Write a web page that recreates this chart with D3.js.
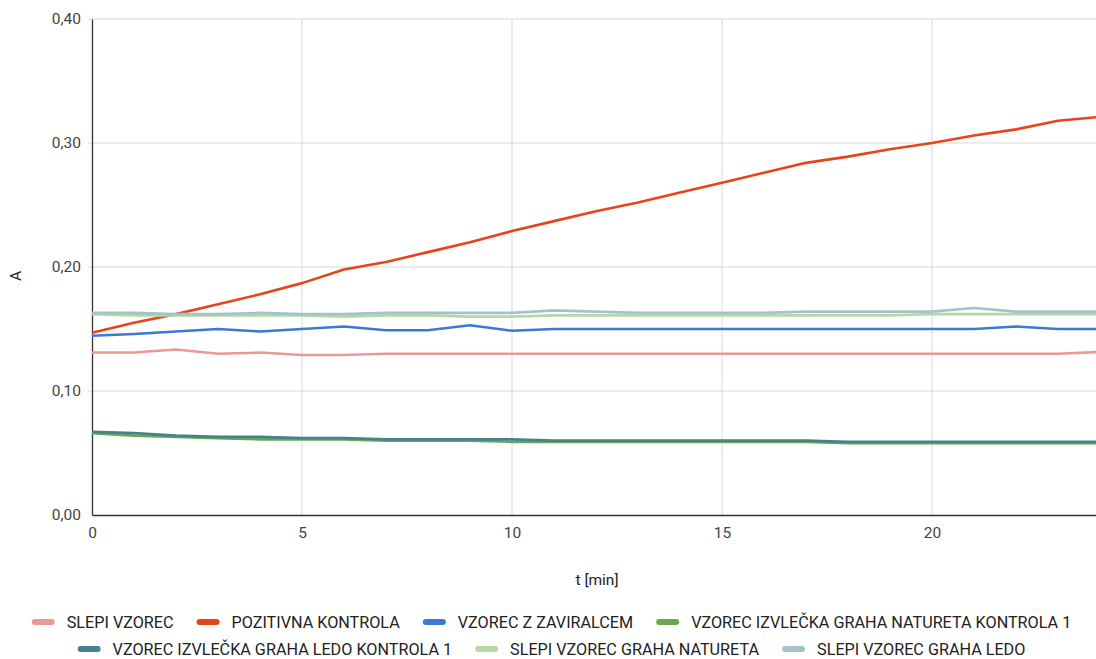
<!DOCTYPE html>
<html>
<head>
<meta charset="utf-8">
<script src="https://cdn.jsdelivr.net/npm/d3@7"></script>
<style>
  body { margin: 0; background: #fff; }
  text { font-family: Roboto, "Noto Sans", sans-serif; }
</style>
</head>
<body>
<div id="chart"></div>
<script>
const minutes = d3.range(0, 25)
const seriesNames = ['SLEPI VZOREC', 'POZITIVNA KONTROLA', 'VZOREC Z ZAVIRALCEM',
  'VZOREC IZVLEČKA GRAHA NATURETA KONTROLA 1', 'VZOREC IZVLEČKA GRAHA LEDO KONTROLA 1',
  'SLEPI VZOREC GRAHA NATURETA', 'SLEPI VZOREC GRAHA LEDO']
const slepi = [0.131, 0.131, 0.1335, 0.130, 0.131, 0.129, 0.129, 0.130, 0.130, 0.130, 0.130, 0.130, 0.130,
  0.130, 0.130, 0.130, 0.130, 0.130, 0.130, 0.130, 0.130, 0.130, 0.130, 0.130, 0.1315]
const pozitivna = [0.147, 0.155, 0.162, 0.170, 0.178, 0.187, 0.198, 0.204, 0.212, 0.220, 0.229, 0.237, 0.245,
  0.252, 0.260, 0.268, 0.276, 0.284, 0.289, 0.295, 0.300, 0.306, 0.311, 0.318, 0.321]
const zaviralec = [0.1446, 0.146, 0.148, 0.150, 0.148, 0.150, 0.152, 0.149, 0.149, 0.153, 0.1486, 0.150, 0.150,
  0.150, 0.150, 0.150, 0.150, 0.150, 0.150, 0.150, 0.150, 0.150, 0.152, 0.150, 0.150]
const naturetaKontrola = [0.066, 0.064, 0.063, 0.062, 0.061, 0.061, 0.061, 0.060, 0.060, 0.060, 0.059, 0.059, 0.059,
  0.059, 0.059, 0.059, 0.059, 0.059, 0.058, 0.058, 0.058, 0.058, 0.058, 0.058, 0.058]
const ledoKontrola = [0.067, 0.066, 0.064, 0.063, 0.063, 0.062, 0.062, 0.061, 0.061, 0.061, 0.061, 0.060, 0.060,
  0.060, 0.060, 0.060, 0.060, 0.060, 0.059, 0.059, 0.059, 0.059, 0.059, 0.059, 0.059]
const slepiNatureta = [0.162, 0.161, 0.161, 0.161, 0.161, 0.161, 0.160, 0.161, 0.161, 0.160, 0.160, 0.161, 0.161,
  0.161, 0.161, 0.161, 0.161, 0.161, 0.161, 0.161, 0.162, 0.162, 0.162, 0.162, 0.162]
const slepiLedo = [0.163, 0.163, 0.162, 0.162, 0.163, 0.162, 0.162, 0.163, 0.163, 0.163, 0.163, 0.165, 0.164,
  0.163, 0.163, 0.163, 0.163, 0.164, 0.164, 0.164, 0.164, 0.167, 0.164, 0.164, 0.164]
const yTicks = [0, 0.1, 0.2, 0.3, 0.4]
const xTicks = [0, 5, 10, 15, 20]

const colors = ['#ea9999', '#e8441c', '#3c78d8', '#6aa84f', '#45818e', '#b6d7a8', '#a2c4c9']
const allValues = [slepi, pozitivna, zaviralec, naturetaKontrola, ledoKontrola, slepiNatureta, slepiLedo]

const width = 1096, height = 659
const padLeft = 92, padTop = 19, padBottom = 515, padRight = 1100
const fs = 15.5

const svg = d3.select('#chart').append('svg')
  .attr('width', width).attr('height', height)

const x = d3.scaleLinear().domain([0, 24]).range([padLeft, padRight])
const y = d3.scaleLinear().domain([0, 0.4]).range([padBottom, padTop])
const fmt = d => d3.format('.2f')(d).replace('.', ',')

// grid
svg.append('g').selectAll('line').data(yTicks.slice(1)).join('line')
  .attr('x1', padLeft - 4).attr('x2', width).attr('y1', d => y(d)).attr('y2', d => y(d))
  .attr('stroke', '#d9d9d9').attr('stroke-width', 1)
svg.append('g').selectAll('line').data(xTicks.slice(1)).join('line')
  .attr('x1', d => x(d)).attr('x2', d => x(d)).attr('y1', padTop).attr('y2', padBottom)
  .attr('stroke', '#d9d9d9').attr('stroke-width', 1)

// y axis
const yAxis = svg.append('g').attr('transform', `translate(${padLeft},0)`)
  .call(d3.axisLeft(y).tickValues(yTicks).tickFormat(fmt).tickSize(0).tickPadding(11))
yAxis.select('.domain').attr('stroke', '#333').attr('stroke-width', 1.3)
yAxis.selectAll('text').attr('font-size', fs).attr('fill', '#444').style('font-family', 'Roboto')

// x axis
const xAxis = svg.append('g').attr('transform', `translate(0,${padBottom})`)
  .call(d3.axisBottom(x).tickValues(xTicks).tickFormat(d3.format('d')).tickSize(0).tickPadding(12))
xAxis.select('.domain').attr('stroke', '#333').attr('stroke-width', 1.3)
xAxis.selectAll('text').attr('font-size', fs).attr('fill', '#444').style('font-family', 'Roboto')

svg.append('text').text('t [min]')
  .attr('x', 597).attr('y', 585).attr('text-anchor', 'middle')
  .attr('font-size', fs).attr('fill', '#222')
svg.append('text').text('A')
  .attr('transform', 'translate(21,276) rotate(-90)').attr('text-anchor', 'middle')
  .attr('font-size', fs).attr('fill', '#222')

// lines
const line = d3.line().x((d, i) => x(minutes[i])).y(d => y(d))
svg.append('g').selectAll('path').data(allValues).join('path')
  .attr('d', d => line(d))
  .attr('fill', 'none')
  .attr('stroke', (d, i) => colors[i])
  .attr('stroke-width', 2.6)
  .attr('stroke-linejoin', 'round')

// legend
const rows = [[0, 1, 2, 3], [4, 5, 6]]
const rowY = [622, 649]
rows.forEach((row, r) => {
  const g = svg.append('g')
  let cx = 0
  row.forEach(i => {
    const item = g.append('g').attr('transform', `translate(${cx},0)`)
    item.append('line').attr('x1', 0).attr('x2', 17).attr('y1', 0).attr('y2', 0)
      .attr('stroke', colors[i]).attr('stroke-width', 6).attr('stroke-linecap', 'round')
    const t = item.append('text').text(seriesNames[i])
      .attr('x', 32).attr('y', 5.5).attr('font-size', 16.2).attr('fill', '#222')
    cx += 32 + t.node().getComputedTextLength() + 26
  })
  const total = cx - 26
  g.attr('transform', `translate(${553 - total / 2},${rowY[r]})`)
})
</script>
</body>
</html>
